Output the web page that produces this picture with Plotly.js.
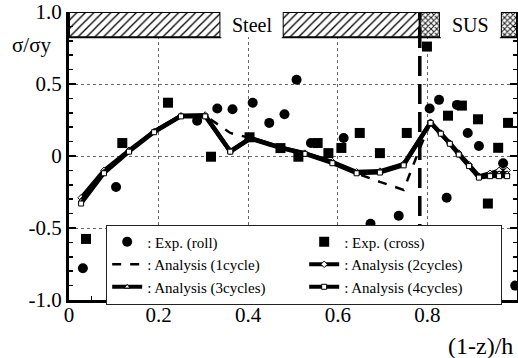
<!DOCTYPE html>
<html>
<head>
<meta charset="utf-8">
<script src="https://cdn.plot.ly/plotly-3.0.1.min.js"></script>
<style>
  html, body { margin: 0; padding: 0; background: #fff; }
  #chart { width: 518px; height: 358px; }
</style>
</head>
<body>
<div id="chart"></div>
<script>
// Measured stress ratio along the depth: roll-straightened specimen
const rollX = [0.031, 0.105, 0.286, 0.331, 0.365, 0.41, 0.447, 0.481, 0.508, 0.54, 0.613,
               0.673, 0.736, 0.805, 0.826, 0.843, 0.866, 0.89, 0.915, 0.969, 0.996];
const rollY = [-0.78, -0.215, 0.245, 0.33, 0.325, 0.37, 0.23, 0.29, 0.53, 0.09, 0.125,
               -0.47, -0.415, 0.33, 0.39, -0.29, 0.355, 0.16, 0.07, -0.05, -0.9];

// Measured stress ratio: cross-rolled specimen
const crossX = [0.038, 0.119, 0.221, 0.317, 0.403, 0.472, 0.512, 0.555, 0.579, 0.608, 0.649,
                0.694, 0.754, 0.799, 0.846, 0.877, 0.913, 0.935, 0.958, 0.98];
const crossY = [-0.576, 0.09, 0.37, -0.005, 0.13, 0.055, -0.005, 0.09, 0.02, 0.056, 0.16,
                0.02, 0.16, 0.76, 0.28, 0.35, 0.255, -0.33, 0.057, 0.23];

// Analysis, 1 cycle
const ana1X = [0.027, 0.078, 0.134, 0.19, 0.25, 0.304, 0.36, 0.405, 0.472, 0.526, 0.588,
               0.642, 0.694, 0.747, 0.78, 0.807, 0.83, 0.85, 0.87, 0.893, 0.915, 0.94, 0.96, 0.978];
const ana1Y = [-0.3, -0.1, 0.04, 0.17, 0.28, 0.28, 0.16, 0.125, 0.06, 0.02, -0.04,
               -0.12, -0.18, -0.235, 0.03, 0.23, 0.16, 0.09, 0.02, -0.06, -0.14, -0.13, -0.11, -0.11];

// Analysis, 2 / 3 / 4 cycles
const anaX  = [0.027, 0.078, 0.134, 0.19, 0.25, 0.304, 0.36, 0.405, 0.472, 0.526, 0.588,
               0.642, 0.694, 0.747, 0.807, 0.83, 0.85, 0.87, 0.893, 0.915, 0.94, 0.96, 0.978];
const ana2Y = [-0.29, -0.1, 0.04, 0.17, 0.28, 0.285, 0.035, 0.125, 0.06, 0.02, -0.04,
               -0.11, -0.105, -0.055, 0.235, 0.16, 0.09, 0.02, -0.06, -0.14, -0.12, -0.1, -0.1];
const ana3Y = [-0.31, -0.11, 0.035, 0.17, 0.28, 0.28, 0.03, 0.125, 0.06, 0.02, -0.045,
               -0.115, -0.11, -0.06, 0.235, 0.16, 0.09, 0.015, -0.065, -0.145, -0.13, -0.12, -0.12];
const ana4Y = [-0.33, -0.12, 0.03, 0.165, 0.275, 0.275, 0.03, 0.12, 0.055, 0.015, -0.05,
               -0.12, -0.115, -0.065, 0.23, 0.155, 0.085, 0.01, -0.07, -0.15, -0.14, -0.14, -0.14];

// Material zones across the depth (band drawn at the top of the frame)
const steelStart = [0, 0.477];
const steelEnd   = [0.338, 0.783];
const susStart   = [0.783, 0.964];
const susEnd     = [0.828, 1.0];
const bandBottom = 0.825;
const bandTop    = 1.0;
const interfaceX = 0.783;

// Tick labels
const xTickVals = [0, 0.2, 0.4, 0.6, 0.8, 1];
const xTickText = ['0', '0.2', '0.4', '0.6', '0.8', '1'];
const yTickVals = [-1, -0.5, 0, 0.5, 1];
const yTickText = ['-1.0', '-0.5', '0', '0.5', '1.0'];

const serif = 'Liberation Serif';

function zoneBar(starts, ends, pattern) {
  return {
    type: 'bar',
    x: starts.map((s, i) => (s + ends[i]) / 2),
    width: starts.map((s, i) => ends[i] - s),
    y: starts.map(() => bandTop - bandBottom),
    base: starts.map(() => bandBottom),
    marker: {
      color: 'white',
      line: { color: 'black', width: 2 },
      pattern: pattern
    },
    showlegend: false,
    hoverinfo: 'skip'
  };
}

const steelBar = zoneBar(steelStart, steelEnd,
  { shape: '/', fgcolor: 'black', bgcolor: 'white', size: 6, solidity: 0.22 });
const susBar = zoneBar(susStart, susEnd,
  { shape: 'x', fgcolor: '#222', bgcolor: 'white', size: 4, solidity: 0.45 });

function analysis(name, x, y, dash, symbol, rank) {
  const t = {
    type: 'scatter', mode: symbol ? 'lines+markers' : 'lines',
    name: name, x: x, y: y, legendrank: rank,
    line: { color: 'black', width: dash ? 2.5 : 4, dash: dash || 'solid' }
  };
  if (symbol) {
    t.marker = { symbol: symbol, size: 5, color: 'white', line: { color: 'black', width: 1 } };
  }
  return t;
}

const traces = [
  steelBar, susBar,
  analysis(': Analysis (1cycle)', ana1X, ana1Y, 'dash', null, 3),
  analysis(': Analysis (2cycles)', anaX, ana2Y, null, 'diamond', 4),
  analysis(': Analysis (3cycles)', anaX, ana3Y, null, 'triangle-up', 5),
  analysis(': Analysis (4cycles)', anaX, ana4Y, null, 'square', 6),
  {
    type: 'scatter', mode: 'markers', name: ': Exp. (roll)', legendrank: 1,
    x: rollX, y: rollY,
    marker: { symbol: 'circle', size: 10, color: 'black' }
  },
  {
    type: 'scatter', mode: 'markers', name: ': Exp. (cross)', legendrank: 2,
    x: crossX, y: crossY,
    marker: { symbol: 'square', size: 10, color: 'black' }
  }
];

const layout = {
  width: 518, height: 358,
  margin: { l: 69, r: 1, t: 12, b: 58 },
  paper_bgcolor: 'white', plot_bgcolor: 'white',
  showlegend: true,
  barmode: 'overlay',
  font: { family: serif, color: 'black' },
  xaxis: {
    range: [0, 1], tickvals: xTickVals, ticktext: xTickText,
    ticks: 'inside', ticklen: 7, tickwidth: 1.5, tickcolor: 'black',
    ticklabelstandoff: -6,
    showline: true, linewidth: 3, linecolor: 'black',
    showgrid: true, gridcolor: '#666', griddash: 'dot', gridwidth: 1,
    zeroline: false,
    minor: { tickmode: 'linear', tick0: 0, dtick: 0.05, ticks: 'inside', ticklen: 4,
             tickcolor: 'black', showgrid: false },
    tickfont: { family: serif, size: 21, color: 'black' }
  },
  yaxis: {
    range: [-1, 1], tickvals: yTickVals, ticktext: yTickText,
    ticks: 'inside', ticklen: 7, tickwidth: 1.5, tickcolor: 'black',
    showline: true, linewidth: 3, linecolor: 'black', mirror: 'ticks',
    showgrid: true, gridcolor: '#666', griddash: 'dot', gridwidth: 1,
    zeroline: false,
    minor: { tickmode: 'linear', tick0: 0, dtick: 0.1, ticks: 'inside', ticklen: 4,
             tickcolor: 'black', showgrid: false },
    tickfont: { family: serif, size: 21, color: 'black' }
  },
  legend: {
    orientation: 'h', x: 0.083, xanchor: 'left', y: 0.262, yanchor: 'top',
    bgcolor: 'white', bordercolor: '#222', borderwidth: 1,
    font: { family: serif, size: 15, color: 'black' },
    entrywidth: 152, entrywidthmode: 'pixels',
    traceorder: 'normal'
  },
  shapes: [
    // blank the frame between the material bands where the labels sit
    { type: 'rect', xref: 'x', yref: 'y', x0: steelEnd[0], x1: steelStart[1],
      y0: bandBottom, y1: bandTop, fillcolor: 'white', line: { width: 0 }, layer: 'above' },
    { type: 'rect', xref: 'x', yref: 'y', x0: susEnd[0], x1: susStart[1],
      y0: bandBottom, y1: bandTop, fillcolor: 'white', line: { width: 0 }, layer: 'above' },
    // steel / stainless interface
    { type: 'line', xref: 'x', yref: 'y', x0: interfaceX, x1: interfaceX,
      y0: -1, y1: bandTop, line: { color: 'black', width: 3.5, dash: '20px,8px' }, layer: 'above' }
  ],
  annotations: [
    { text: 'Steel', xref: 'x', yref: 'y', x: (steelEnd[0] + steelStart[1]) / 2,
      y: (bandBottom + bandTop) / 2, showarrow: false,
      font: { family: serif, size: 20, color: 'black' } },
    { text: 'SUS', xref: 'x', yref: 'y', x: (susEnd[0] + susStart[1]) / 2,
      y: (bandBottom + bandTop) / 2, showarrow: false,
      font: { family: serif, size: 20, color: 'black' } },
    { text: 'σ/σy', xref: 'paper', yref: 'paper', x: -0.083, y: 0.885,
      xanchor: 'center', yanchor: 'middle', showarrow: false,
      font: { family: serif, size: 21, color: 'black' } },
    { text: '(1-z)/h', xref: 'paper', yref: 'paper', x: 0.995, y: -0.16,
      xanchor: 'right', yanchor: 'middle', showarrow: false,
      font: { family: serif, size: 24, color: 'black' } }
  ]
};

Plotly.newPlot('chart', traces, layout, { staticPlot: true, displayModeBar: false });
</script>
</body>
</html>
